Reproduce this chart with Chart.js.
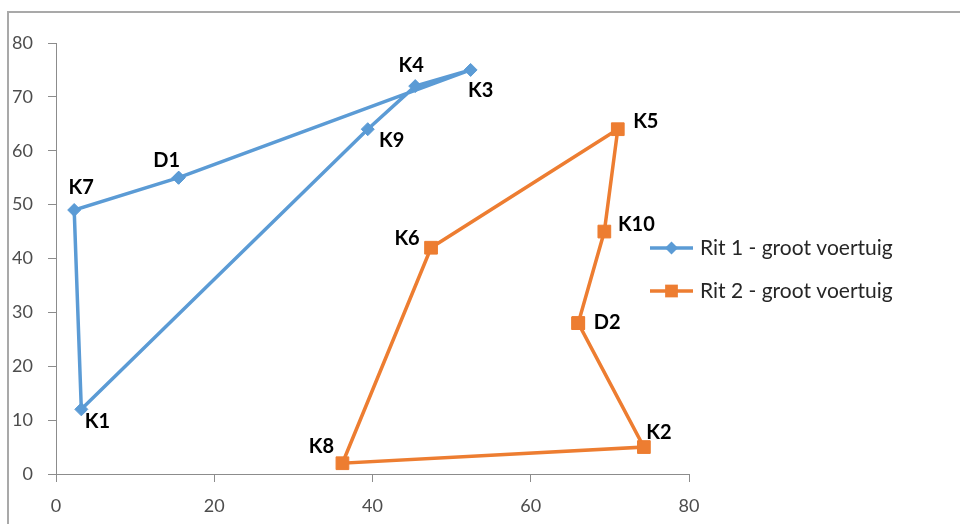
<!DOCTYPE html>
<html>
<head>
<meta charset="utf-8">
<title>Ritten</title>
<script src="https://cdn.jsdelivr.net/npm/chart.js@4/dist/chart.umd.min.js"></script>
<style>
  html, body { margin: 0; padding: 0; background: #ffffff; }
  #wrap { position: relative; width: 960px; height: 524px; }
  canvas { display: block; }
</style>
</head>
<body>
<div id="wrap"><canvas id="c" width="960" height="524"></canvas></div>
<script>
// Route 1: stops in driving order, closing back at the depot
const rit1Names = ['D1', 'K7', 'K1', 'K9', 'K4', 'K3', 'D1'];
const rit1X = [15.5, 2.3, 3.2, 39.4, 45.4, 52.4, 15.5];
const rit1Y = [55, 49, 12, 64, 72, 75, 55];

// Route 2: stops in driving order, closing back at the depot
const rit2Names = ['D2', 'K10', 'K5', 'K6', 'K8', 'K2', 'D2'];
const rit2X = [66, 69.3, 71, 47.4, 36.2, 74.3, 66];
const rit2Y = [28, 45, 64, 42, 2, 5, 28];

const seriesNames = ['Rit 1 - groot voertuig', 'Rit 2 - groot voertuig'];
const xTicks = [0, 20, 40, 60, 80];
const yTicks = [0, 10, 20, 30, 40, 50, 60, 70, 80];

const BLUE = '#5B9BD5';
const ORANGE = '#ED7D31';
const AXIS = '#8c8c8c';
const TICKTXT = '#4d4d4d';
const FONT = 'Lato, "Open Sans", sans-serif';

function toPoints(xs, ys) {
  return xs.map((x, i) => ({ x: x, y: ys[i] }));
}

// Where each stop name sits relative to its marker (pixels)
const labelOffsets = {
  K7: [7, -22], D1: [-12, -17], K4: [-4, -21], K3: [10, 21], K9: [24, 11], K1: [16, 12],
  K5: [28, -8], K10: [32, -7], K6: [-24, -9], D2: [29, -1], K2: [15, -15], K8: [-21, -17]
};

const stopLabels = {
  id: 'stopLabels',
  afterDatasetsDraw(chart) {
    const ctx = chart.ctx;
    const xs = chart.scales.x, ys = chart.scales.y;
    ctx.save();
    ctx.font = 'bold 20px ' + FONT;
    ctx.fillStyle = '#000000';
    ctx.textAlign = 'center';
    ctx.textBaseline = 'middle';
    chart.data.datasets.forEach(ds => {
      const seen = {};
      ds.data.forEach((p, i) => {
        const name = ds.stopNames[i];
        if (seen[name]) return;
        seen[name] = true;
        const off = labelOffsets[name] || [0, -18];
        ctx.fillText(name, xs.getPixelForValue(p.x) + off[0], ys.getPixelForValue(p.y) + off[1]);
      });
    });
    ctx.restore();
  }
};

function drawMarker(ctx, style, x, y, r, color) {
  ctx.fillStyle = color;
  ctx.beginPath();
  if (style === 'rectRot') {
    ctx.moveTo(x, y - r); ctx.lineTo(x + r, y); ctx.lineTo(x, y + r); ctx.lineTo(x - r, y);
    ctx.closePath();
  } else {
    const s = Math.SQRT1_2 * r;
    ctx.rect(x - s, y - s, 2 * s, 2 * s);
  }
  ctx.fill();
}

const frameAndLegend = {
  id: 'frameAndLegend',
  beforeDraw(chart) {
    const ctx = chart.ctx;
    ctx.save();
    ctx.strokeStyle = '#a9a9a9';
    ctx.lineWidth = 2;
    ctx.beginPath();
    ctx.moveTo(8, chart.height);
    ctx.lineTo(8, 12);
    ctx.lineTo(chart.width, 12);
    ctx.stroke();
    ctx.restore();
  },
  afterDraw(chart) {
    const ctx = chart.ctx;
    const area = chart.chartArea;
    const x0 = area.right - 39;
    const rows = [248, 291];
    ctx.save();
    chart.data.datasets.forEach((ds, i) => {
      const y = rows[i];
      ctx.strokeStyle = ds.borderColor;
      ctx.lineWidth = ds.borderWidth;
      ctx.beginPath();
      ctx.moveTo(x0, y);
      ctx.lineTo(x0 + 43, y);
      ctx.stroke();
      drawMarker(ctx, ds.pointStyle, x0 + 21.5, y, ds.pointRadius, ds.backgroundColor);
      ctx.font = '21px ' + FONT;
      ctx.fillStyle = '#262626';
      ctx.textAlign = 'left';
      ctx.textBaseline = 'middle';
      ctx.fillText(ds.label, x0 + 50, y);
    });
    ctx.restore();
  }
};

new Chart(document.getElementById('c'), {
  type: 'scatter',
  data: {
    datasets: [
      {
        label: seriesNames[0],
        stopNames: rit1Names,
        data: toPoints(rit1X, rit1Y),
        showLine: true,
        borderColor: BLUE,
        backgroundColor: BLUE,
        borderWidth: 3.5,
        pointStyle: 'rectRot',
        pointRadius: 6.5,
        pointBorderWidth: 1,
        pointHoverRadius: 6.5
      },
      {
        label: seriesNames[1],
        stopNames: rit2Names,
        data: toPoints(rit2X, rit2Y),
        showLine: true,
        borderColor: ORANGE,
        backgroundColor: ORANGE,
        borderWidth: 3.5,
        pointStyle: 'rect',
        pointRadius: 9,
        pointBorderWidth: 1,
        pointHoverRadius: 9
      }
    ]
  },
  options: {
    responsive: false,
    animation: false,
    devicePixelRatio: 1,
    layout: { padding: { top: 43, right: 271, bottom: 0, left: 0 } },
    plugins: { legend: { display: false }, tooltip: { enabled: false } },
    scales: {
      x: {
        type: 'linear',
        min: 0, max: 80,
        afterBuildTicks: s => { s.ticks = xTicks.map(v => ({ value: v })); },
        afterFit: s => { s.height = 50; },
        grid: { drawOnChartArea: false, drawTicks: true, tickLength: 8, color: AXIS },
        border: { color: AXIS, width: 1 },
        ticks: { font: { family: FONT, size: 18 }, color: TICKTXT, padding: 13, maxRotation: 0 }
      },
      y: {
        type: 'linear',
        min: 0, max: 80,
        afterBuildTicks: s => { s.ticks = yTicks.map(v => ({ value: v })); },
        afterFit: s => { s.width = 56; },
        grid: { drawOnChartArea: false, drawTicks: true, tickLength: 8, color: AXIS },
        border: { color: AXIS, width: 1 },
        ticks: { font: { family: FONT, size: 18 }, color: TICKTXT, padding: 15 }
      }
    }
  },
  plugins: [frameAndLegend, stopLabels]
});
</script>
</body>
</html>
